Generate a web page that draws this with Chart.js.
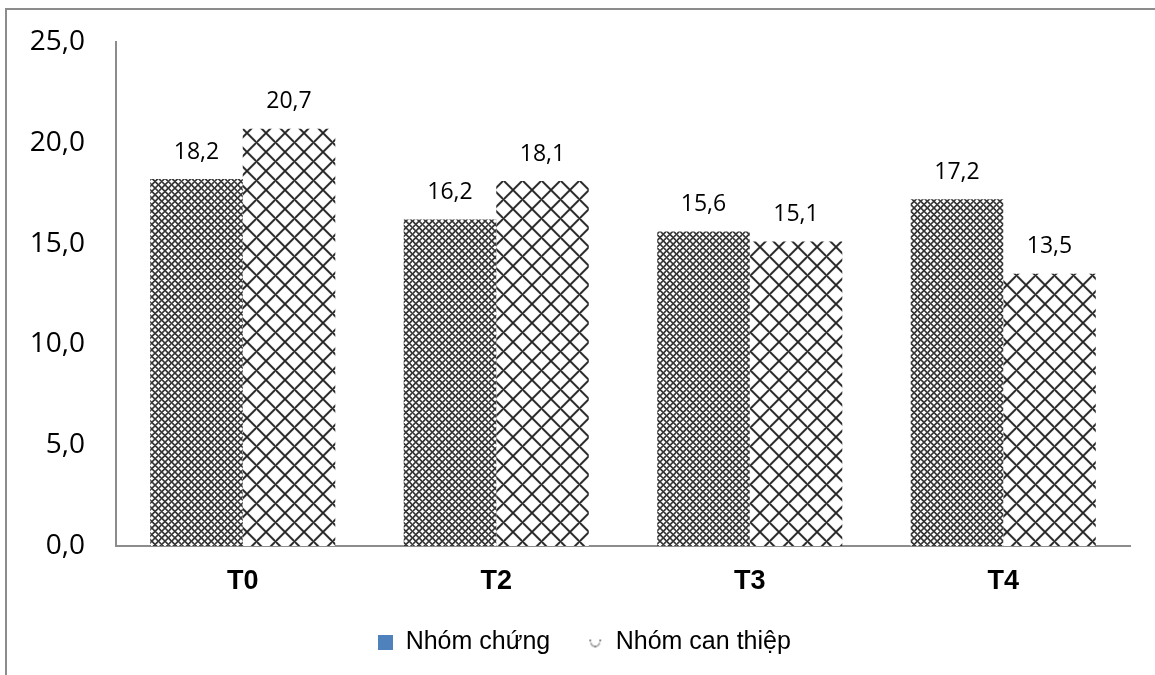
<!DOCTYPE html>
<html>
<head>
<meta charset="utf-8">
<script src="https://cdn.jsdelivr.net/npm/chart.js@4"></script>
<style>
  html, body { margin: 0; padding: 0; background: #fff; }
  canvas { display: block; }
</style>
</head>
<body>
<canvas id="chart" width="1155" height="675"></canvas>
<script>
// Categories, series and axis ticks
const categories = ['T0', 'T2', 'T3', 'T4'];
const seriesNames = ['Nhóm chứng', 'Nhóm can thiệp'];
const controlValues = [18.2, 16.2, 15.6, 17.2];
const interventionValues = [20.7, 18.1, 15.1, 13.5];
const yTicks = [0, 5, 10, 15, 20, 25];

const fmt = v => Number(v).toFixed(1).replace('.', ',');

// Diamond lattice fill: dark diagonal lines on white, `periods` repeats per tile
function latticePattern(period, periods, halfWidth, soft, dark) {
  const size = Math.round(period * periods);
  const c = document.createElement('canvas');
  c.width = size; c.height = size;
  const g = c.getContext('2d');
  const img = g.createImageData(size, size);
  const mod = (a, m) => ((a % m) + m) % m;
  for (let y = 0; y < size; y++) {
    for (let x = 0; x < size; x++) {
      const px = x + 0.5, py = y + 0.5;
      const u = mod(px + py, period), v = mod(px - py, period);
      const d1 = Math.min(u, period - u) / Math.SQRT2;
      const d2 = Math.min(v, period - v) / Math.SQRT2;
      const d = Math.min(d1, d2);
      const a = Math.max(0, Math.min(1, (halfWidth - d) / soft + 0.5));
      const val = Math.round(255 - a * (255 - dark));
      const i = (y * size + x) * 4;
      img.data[i] = val; img.data[i + 1] = val; img.data[i + 2] = val; img.data[i + 3] = 255;
    }
  }
  g.putImageData(img, 0, 0);
  return g.createPattern(c, 'repeat');
}

const finePattern = latticePattern(6.6, 5, 0.85, 0.9, 55);
const coarsePattern = latticePattern(19, 1, 1.0, 1.1, 35);

// Legend icons
function squareIcon(color, s) {
  const c = document.createElement('canvas');
  c.width = s; c.height = s;
  const g = c.getContext('2d');
  g.fillStyle = color;
  g.fillRect(0, 0, s, s);
  return c;
}
function hatchIcon(s) {
  const c = document.createElement('canvas');
  c.width = s; c.height = s;
  const g = c.getContext('2d');
  g.fillStyle = '#fff';
  g.fillRect(0, 0, s, s);
  g.strokeStyle = '#a8a8a8';
  g.lineWidth = 1.6;
  g.beginPath();
  g.arc(s / 2, s / 2 - 0.5, s / 2 - 2.5, 0.05 * Math.PI, 0.95 * Math.PI);
  g.stroke();
  g.fillStyle = '#8a8a8a';
  g.fillRect(1, 4, 2, 2);
  g.fillRect(s - 3, 4, 2, 2);
  g.fillRect(s / 2 - 1, s - 4, 2, 2);
  return c;
}
const legendIcons = [squareIcon('#4f81bd', 15), hatchIcon(14)];

// White page with a grey frame on the top and left edges
const framePlugin = {
  id: 'frame',
  beforeDraw(chart) {
    const ctx = chart.ctx;
    ctx.save();
    ctx.fillStyle = '#fff';
    ctx.fillRect(0, 0, chart.width, chart.height);
    ctx.strokeStyle = '#8c8c8c';
    ctx.lineWidth = 2;
    ctx.strokeRect(6, 9, chart.width + 20, chart.height + 20);
    ctx.restore();
  }
};

// Nudge the legend so it sits centred under the plot rather than the page
const legendShift = {
  id: 'legendShift',
  afterLayout(chart) {
    if (chart.legend) {
      chart.legend.left += 9;
      chart.legend.right += 9;
    }
  }
};

// Value labels above each bar
const valueLabels = {
  id: 'valueLabels',
  afterDatasetsDraw(chart) {
    const ctx = chart.ctx;
    ctx.save();
    ctx.font = '23px "Open Sans"';
    ctx.fillStyle = '#000';
    ctx.textAlign = 'center';
    ctx.textBaseline = 'middle';
    chart.data.datasets.forEach((ds, di) => {
      chart.getDatasetMeta(di).data.forEach((bar, i) => {
        ctx.fillText(fmt(ds.data[i]), bar.x, bar.y - 27);
      });
    });
    ctx.restore();
  }
};

new Chart(document.getElementById('chart'), {
  type: 'bar',
  data: {
    labels: categories,
    datasets: [
      { label: seriesNames[0], data: controlValues, backgroundColor: finePattern, borderWidth: 0 },
      { label: seriesNames[1], data: interventionValues, backgroundColor: coarsePattern, borderWidth: 0 }
    ]
  },
  options: {
    responsive: false,
    animation: false,
    devicePixelRatio: 1,
    categoryPercentage: 0.73,
    barPercentage: 1,
    layout: { padding: { top: 42, left: 20, right: 25, bottom: 10 } },
    plugins: {
      tooltip: { enabled: false },
      legend: {
        position: 'bottom',
        labels: {
          usePointStyle: true,
          boxWidth: 16,
          boxHeight: 16,
          padding: 37,
          color: '#000',
          font: { family: 'Liberation Sans', size: 25 },
          generateLabels: chart => chart.data.datasets.map((ds, i) => ({
            text: ds.label,
            pointStyle: legendIcons[i],
            fillStyle: 'transparent',
            strokeStyle: 'transparent',
            lineWidth: 0,
            hidden: false,
            datasetIndex: i,
            fontColor: '#000'
          }))
        }
      }
    },
    scales: {
      x: {
        grid: { display: false, drawTicks: false },
        border: { display: true, color: '#8c8c8c', width: 2 },
        ticks: { padding: 19, color: '#000', font: { family: 'Liberation Sans', size: 27, weight: 'bold' } },
        afterFit: s => { s.height = 47; }
      },
      y: {
        min: 0,
        max: 25,
        afterBuildTicks: s => { s.ticks = yTicks.map(v => ({ value: v })); },
        grid: { display: false, drawTicks: false },
        border: { display: true, color: '#8c8c8c', width: 2 },
        ticks: { padding: 31, color: '#000', font: { family: 'Open Sans', size: 28 }, callback: v => fmt(v) },
        afterFit: s => { s.width = 96; s.paddingTop = 0; s.paddingBottom = 0; }
      }
    }
  },
  plugins: [framePlugin, legendShift, valueLabels]
});
</script>
</body>
</html>
